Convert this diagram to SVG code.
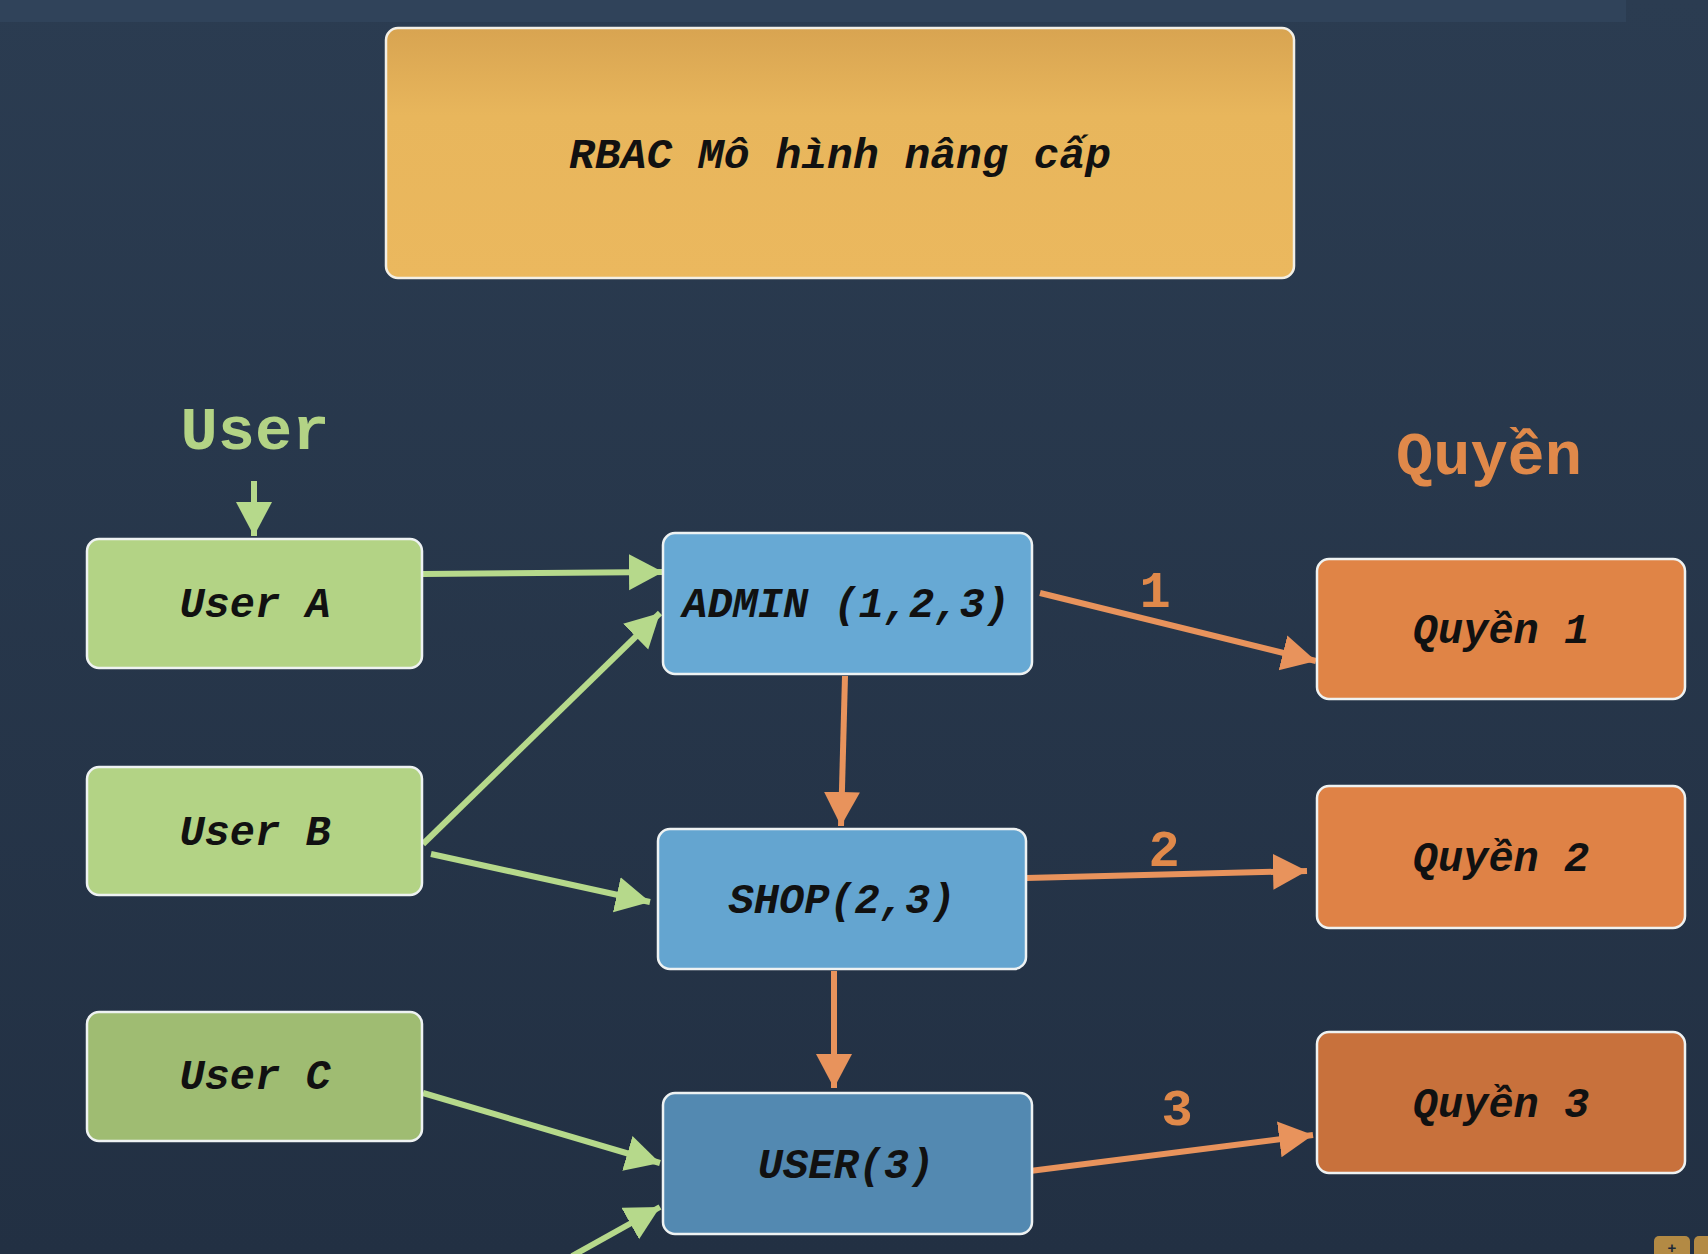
<svg xmlns="http://www.w3.org/2000/svg" width="1708" height="1254" viewBox="0 0 1708 1254">
<style>
.box{stroke:#eef2f2;stroke-width:2.5}
.lbl{font-family:"Liberation Mono","Courier New",monospace;font-weight:bold;font-style:italic;font-size:42px;fill:#111;text-anchor:middle;dominant-baseline:central}
.hdr{font-family:"Liberation Mono","Courier New",monospace;font-weight:bold;font-size:62px;text-anchor:middle}
.num{font-family:"Liberation Mono","Courier New",monospace;font-weight:bold;font-size:52px;fill:#e0894a;text-anchor:middle}
.g{stroke:#b6d98b;stroke-width:6;fill:none;marker-end:url(#ag)}
.o{stroke:#e8935c;stroke-width:6;fill:none;marker-end:url(#ao)}
</style>
<defs>
<linearGradient id="bg" x1="0" y1="0" x2="0" y2="1">
<stop offset="0" stop-color="#2b3c51"/>
<stop offset="1" stop-color="#223043"/>
</linearGradient>
<linearGradient id="tg" x1="0" y1="0" x2="0" y2="1">
<stop offset="0" stop-color="#d8a451"/>
<stop offset="0.35" stop-color="#e8b65c"/>
<stop offset="1" stop-color="#ebb85e"/>
</linearGradient>
<marker id="ag" markerUnits="userSpaceOnUse" markerWidth="38" markerHeight="38" refX="34" refY="18" orient="auto">
<path d="M0,0 L34,18 L0,36 Z" fill="#b6d98b"/>
</marker>
<marker id="ao" markerUnits="userSpaceOnUse" markerWidth="38" markerHeight="38" refX="34" refY="18" orient="auto">
<path d="M0,0 L34,18 L0,36 Z" fill="#e8935c"/>
</marker>
</defs>
<rect x="0" y="0" width="1708" height="1254" fill="url(#bg)"/>
<rect x="0" y="0" width="1626" height="22" fill="#30435a"/>

<g id="title">
<rect x="386" y="28" width="908" height="250" rx="12" fill="url(#tg)" stroke="#f2efe6" stroke-width="2.5"/>
<text class="lbl" x="840" y="156" style="font-size:43px">RBAC Mô hình nâng cấp</text>
</g>

<g id="hdr-user"><text class="hdr" x="255" y="449" fill="#b3d385">User</text></g>
<g id="hdr-quyen"><text class="hdr" x="1489" y="474" fill="#e0894a">Quyền</text></g>

<g id="connectors">
<line class="g" x1="254" y1="481" x2="254" y2="536"/>
<line class="g" x1="423" y1="574" x2="663" y2="572"/>
<line class="g" x1="423" y1="844" x2="660" y2="613"/>
<line class="g" x1="431" y1="854" x2="650" y2="902"/>
<line class="g" x1="423" y1="1093" x2="660" y2="1163"/>
<line class="g" x1="572" y1="1256" x2="660" y2="1207"/>
<line class="o" x1="845" y1="676" x2="841" y2="826"/>
<line class="o" x1="834" y1="971" x2="834" y2="1088"/>
<line class="o" x1="1040" y1="593" x2="1316" y2="661"/>
<line class="o" x1="1026" y1="878" x2="1307" y2="871"/>
<line class="o" x1="1030" y1="1171" x2="1313" y2="1135"/>
<text class="num" x="1155" y="607">1</text>
<text class="num" x="1164" y="866">2</text>
<text class="num" x="1177" y="1125">3</text>
</g>

<g id="userA"><rect class="box" x="87" y="539" width="335" height="129" rx="12" fill="#b3d385"/><text class="lbl" x="255" y="606">User A</text></g>
<g id="userB"><rect class="box" x="87" y="767" width="335" height="128" rx="12" fill="#b3d385"/><text class="lbl" x="255" y="834">User B</text></g>
<g id="userC"><rect class="box" x="87" y="1012" width="335" height="129" rx="12" fill="#9fbc72"/><text class="lbl" x="255" y="1078">User C</text></g>

<g id="admin"><rect class="box" x="663" y="533" width="369" height="141" rx="12" fill="#67a9d4"/><text class="lbl" x="846" y="606">ADMIN (1,2,3)</text></g>
<g id="shop"><rect class="box" x="658" y="829" width="368" height="140" rx="12" fill="#64a5d0"/><text class="lbl" x="842" y="902">SHOP(2,3)</text></g>
<g id="user"><rect class="box" x="663" y="1093" width="369" height="141" rx="12" fill="#5389b1"/><text class="lbl" x="846" y="1167">USER(3)</text></g>

<g id="q1"><rect class="box" x="1317" y="559" width="368" height="140" rx="12" fill="#e08446"/><text class="lbl" x="1501" y="632">Quyền 1</text></g>
<g id="q2"><rect class="box" x="1317" y="786" width="368" height="142" rx="12" fill="#df8246"/><text class="lbl" x="1501" y="860">Quyền 2</text></g>
<g id="q3"><rect class="box" x="1317" y="1032" width="368" height="141" rx="12" fill="#c8713c"/><text class="lbl" x="1501" y="1106">Quyền 3</text></g>

<g id="corner">
<rect x="1654" y="1236" width="36" height="24" rx="5" fill="#b38a44"/>
<rect x="1694" y="1236" width="20" height="24" rx="5" fill="#b38a44"/>
<text x="1672" y="1253" font-family="Liberation Sans,sans-serif" font-size="15" font-weight="bold" fill="#1e2a38" text-anchor="middle">+</text>
</g>
</svg>
